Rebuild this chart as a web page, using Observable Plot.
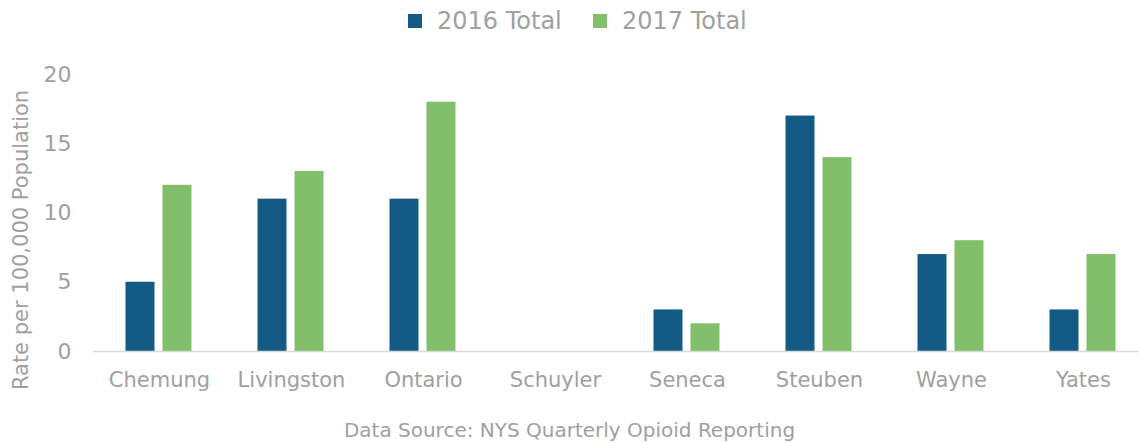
<!DOCTYPE html>
<html>
<head>
<meta charset="utf-8">
<script src="https://cdn.jsdelivr.net/npm/d3@7"></script>
<script src="https://cdn.jsdelivr.net/npm/@observablehq/plot@0.6"></script>
<style>
  body { margin: 0; background: #fff; font-family: "DejaVu Sans", Verdana, sans-serif; color: #a0a0a0; }
  #wrap { width: 1139px; height: 443px; position: relative; overflow: hidden; }
  #legend { height: 42px; position: relative; font-size: 24px; }
  .item { position: absolute; top: 0; height: 42px; display: flex; align-items: center; }
  .sw { width: 14px; height: 14px; margin-right: 15px; }
  #caption { text-align: center; font-size: 20px; margin-top: 8px; }
</style>
</head>
<body>
<div id="wrap">
  <div id="legend"></div>
  <div id="chart"></div>
  <div id="caption"></div>
</div>
<script>
const counties = ["Chemung", "Livingston", "Ontario", "Schuyler", "Seneca", "Steuben", "Wayne", "Yates"];
const seriesNames = ["2016 Total", "2017 Total"];
const values2016 = [5, 11, 11, 0, 3, 17, 7, 3];
const values2017 = [12, 13, 18, 0, 2, 14, 8, 7];
const seriesColors = ["#135a84", "#82bf6b"];
const yTicks = [0, 5, 10, 15, 20];
const yLabel = "Rate per 100,000 Population";
const captionText = "Data Source: NYS Quarterly Opioid Reporting";

const data = [];
counties.forEach((c, i) => {
  data.push({county: c, series: seriesNames[0], value: values2016[i]});
  data.push({county: c, series: seriesNames[1], value: values2017[i]});
});

const legend = document.getElementById("legend");
const legendLeft = [408, 593];
seriesNames.forEach((s, i) => {
  const it = document.createElement("div");
  it.className = "item";
  it.style.left = legendLeft[i] + "px";
  const sw = document.createElement("span");
  sw.className = "sw";
  sw.style.background = seriesColors[i];
  const t = document.createElement("span");
  t.textContent = s;
  it.appendChild(sw); it.appendChild(t);
  legend.appendChild(it);
});
document.getElementById("caption").textContent = captionText;

const chart = Plot.plot({
  width: 1139,
  height: 368,
  marginTop: 32,
  marginBottom: 59,
  marginLeft: 92.5,
  marginRight: 0,
  style: { fontFamily: "DejaVu Sans, Verdana, sans-serif", color: "#a0a0a0", background: "#fff" },
  fx: { domain: counties, range: [92.5, 1148.5], padding: 0 },
  x: { domain: seriesNames, range: [125, 192], paddingInner: 0.21, paddingOuter: 0, axis: null },
  y: { domain: [0, 20], axis: null },
  color: { domain: seriesNames, range: seriesColors },
  marks: [
    Plot.barY(data, { fx: "county", x: "series", y: "value", fill: "series" }),
    Plot.ruleY([0], { stroke: "#d9d9d9", strokeWidth: 1.5 }),
    Plot.axisY({ ticks: yTicks, tickSize: 0, tickPadding: 22, fontSize: 22, label: null }),
    Plot.text([yLabel], { fx: [counties[0]], text: d => d, frameAnchor: "left", textAnchor: "middle", rotate: -90, dx: -72.5, dy: 27, fontSize: 21, fill: "#a0a0a0" }),
    Plot.axisFx({ anchor: "bottom", tickSize: 0, tickPadding: 21, fontSize: 21, label: null })
  ]
});
document.getElementById("chart").appendChild(chart);
</script>
</body>
</html>
